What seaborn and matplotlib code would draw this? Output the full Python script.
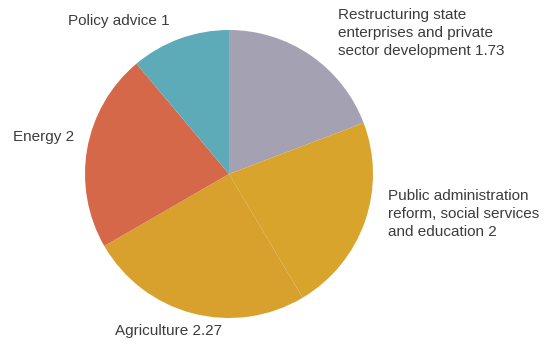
import matplotlib
matplotlib.use("Agg")
import matplotlib.pyplot as plt
import seaborn as sns

# Shares (clockwise from 12 o'clock)
sectors = ["Restructuring state\nenterprises and private\nsector development",
           "Public administration\nreform, social services\nand education",
           "Agriculture", "Energy", "Policy advice"]
values = [1.73, 2, 2.27, 2, 1]
value_labels = ["1.73", "2", "2.27", "2", "1"]
colors = ["#A4A1B2", "#D9A42C", "#D8A12E", "#D6684A", "#5DABB9"]

sns.set_theme(style="white")
plt.rcParams["font.family"] = ["Liberation Sans", "DejaVu Sans"]

fig = plt.figure(figsize=(5.54, 3.44), dpi=100)
ax = fig.add_axes([0.1534, 0.0756, 0.5199, 0.8372])
ax.pie(values, colors=colors, startangle=90, counterclock=False,
       wedgeprops=dict(linewidth=0))
ax.set_xlim(-1, 1)
ax.set_ylim(-1, 1)
ax.set_aspect("equal")
ax.axis("off")

labels = [f"{s} {v}" for s, v in zip(sectors, value_labels)]
txt = dict(fontsize=11, color="#3c3c3c", linespacing=1.32)
fig.text(338 / 554, 1 - 33 / 344, labels[0], ha="left", va="center", **txt)
fig.text(388 / 554, 1 - 214 / 344, labels[1], ha="left", va="center", **txt)
fig.text(115 / 554, 1 - 331 / 344, labels[2], ha="left", va="center", **txt)
fig.text(13 / 554, 1 - 137 / 344, labels[3], ha="left", va="center", **txt)
fig.text(68 / 554, 1 - 21 / 344, labels[4], ha="left", va="center", **txt)

fig.savefig("out.png", dpi=100, facecolor="white")
